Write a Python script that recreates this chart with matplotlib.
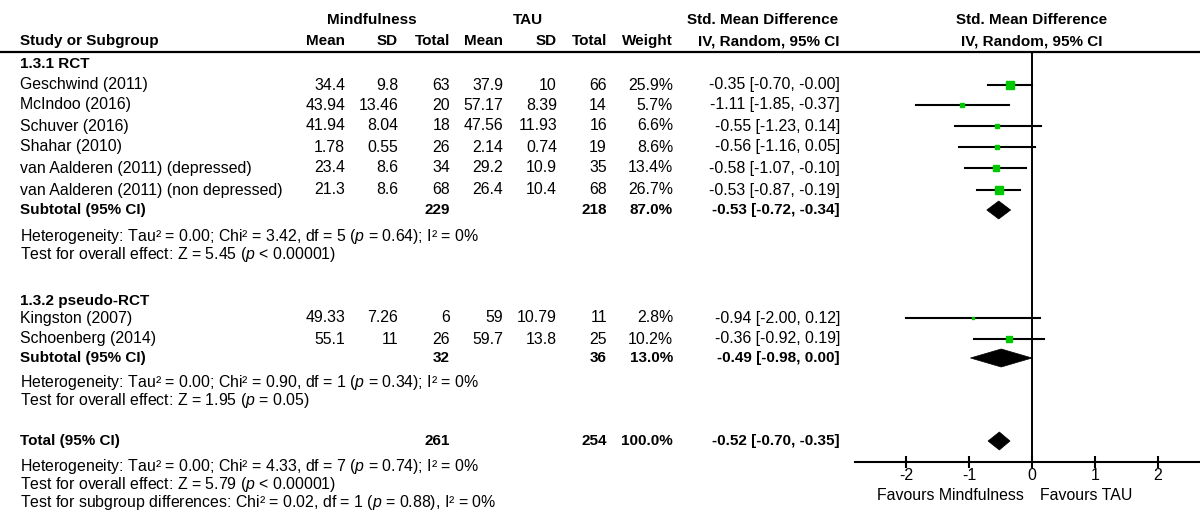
import matplotlib
matplotlib.use("Agg")
import matplotlib.pyplot as plt
from matplotlib.patches import Polygon
import numpy as np

plt.rcParams["font.family"] = ["Liberation Sans", "DejaVu Sans"]
plt.rcParams["mathtext.fontset"] = "custom"
plt.rcParams["mathtext.rm"] = "Liberation Sans"
plt.rcParams["mathtext.it"] = "Liberation Sans:italic"

# ---------------------------------------------------------------------------
# Data
# ---------------------------------------------------------------------------
RCT_STUDIES = ["Geschwind (2011)", "McIndoo (2016)", "Schuver (2016)", "Shahar (2010)",
               "van Aalderen (2011) (depressed)", "van Aalderen (2011) (non depressed)"]
RCT_M_MEAN = [34.4, 43.94, 41.94, 1.78, 23.4, 21.3]
RCT_M_SD = [9.8, 13.46, 8.04, 0.55, 8.6, 8.6]
RCT_M_N = [63, 20, 18, 26, 34, 68]
RCT_T_MEAN = [37.9, 57.17, 47.56, 2.14, 29.2, 26.4]
RCT_T_SD = [10, 8.39, 11.93, 0.74, 10.9, 10.4]
RCT_T_N = [66, 14, 16, 19, 35, 68]
RCT_WEIGHT = [25.9, 5.7, 6.6, 8.6, 13.4, 26.7]
RCT_SMD = [-0.35, -1.11, -0.55, -0.56, -0.58, -0.53]
RCT_LO = [-0.70, -1.85, -1.23, -1.16, -1.07, -0.87]
RCT_HI = [-0.00, -0.37, 0.14, 0.05, -0.10, -0.19]

PSE_STUDIES = ["Kingston (2007)", "Schoenberg (2014)"]
PSE_M_MEAN = [49.33, 55.1]
PSE_M_SD = [7.26, 11]
PSE_M_N = [6, 26]
PSE_T_MEAN = [59, 59.7]
PSE_T_SD = [10.79, 13.8]
PSE_T_N = [11, 25]
PSE_WEIGHT = [2.8, 10.2]
PSE_SMD = [-0.94, -0.36]
PSE_LO = [-2.00, -0.92]
PSE_HI = [0.12, 0.19]

# subtotal / total: (n mind, n tau, weight, smd, lo, hi)
SUB_RCT = (229, 218, 87.0, -0.53, -0.72, -0.34)
SUB_PSE = (32, 36, 13.0, -0.49, -0.98, 0.00)
TOTAL = (261, 254, 100.0, -0.52, -0.70, -0.35)

HET_RCT = "Heterogeneity: Tau² = 0.00; Chi² = 3.42, df = 5 ($\\mathit{p}$ = 0.64); I² = 0%"
EFF_RCT = "Test for overall effect: Z = 5.45 ($\\mathit{p}$ < 0.00001)"
HET_PSE = "Heterogeneity: Tau² = 0.00; Chi² = 0.90, df = 1 ($\\mathit{p}$ = 0.34); I² = 0%"
EFF_PSE = "Test for overall effect: Z = 1.95 ($\\mathit{p}$ = 0.05)"
HET_TOT = "Heterogeneity: Tau² = 0.00; Chi² = 4.33, df = 7 ($\\mathit{p}$ = 0.74); I² = 0%"
EFF_TOT = "Test for overall effect: Z = 5.79 ($\\mathit{p}$ < 0.00001)"
SUBGRP = "Test for subgroup differences: Chi² = 0.02, df = 1 ($\\mathit{p}$ = 0.88), I² = 0%"

XTICKS = [-2, -1, 0, 1, 2]

# ---------------------------------------------------------------------------
# Layout (pixel coordinates)
# ---------------------------------------------------------------------------
W, H = 1200, 517
FS = 11.4
FS_B = 11
COL_X = [345, 398, 450, 503, 557, 607, 673, 840]   # right edges of numeric cols
X_ZERO, X_UNIT = 1032, 62.8
PLOT_LEFT = 855
AXIS_Y = 462

Y_RCT_HEAD = 64
Y_RCT = [85, 105, 126, 147, 168, 190]
Y_RCT_SUB, Y_RCT_HET, Y_RCT_EFF = 210, 236, 254
Y_PSE_HEAD = 301
Y_PSE = [318, 339]
Y_PSE_SUB, Y_PSE_HET, Y_PSE_EFF = 358, 383, 401
Y_TOT, Y_TOT_HET, Y_TOT_EFF, Y_SUBGRP = 441, 466, 485, 503

fig = plt.figure(figsize=(W / 100, H / 100), dpi=100)
ax = fig.add_axes([0, 0, 1, 1])
ax.set_xlim(0, W)
ax.set_ylim(H, 0)
ax.set_axis_off()


def txt(x, y, s, ha="left", bold=False):
    ax.text(x, y, s, ha=ha, va="center", fontsize=FS_B if bold else FS,
            fontweight="bold" if bold else "normal", color="black")


def fmt_ci(e, lo, hi):
    return f"{e:.2f} [{lo:.2f}, {hi:.2f}]"


# header
txt(372, 20, "Mindfulness", ha="center", bold=True)
txt(528, 20, "TAU", ha="center", bold=True)
txt(838, 20, "Std. Mean Difference", ha="right", bold=True)
txt(X_ZERO, 20, "Std. Mean Difference", ha="center", bold=True)
txt(20, 41, "Study or Subgroup", bold=True)
for x, s in zip(COL_X, ["Mean", "SD", "Total", "Mean", "SD", "Total", "Weight",
                        "IV, Random, 95% CI"]):
    txt(x, 41, s, ha="right", bold=True)
txt(X_ZERO, 41, "IV, Random, 95% CI", ha="center", bold=True)
ax.plot([0, W], [52, 52], color="black", lw=1.6, solid_capstyle="butt")


def study_rows(ys, names, mm, msd, mn, tm, tsd, tn, wt, e, lo, hi):
    for i, y in enumerate(ys):
        txt(20, y, names[i])
        vals = [f"{mm[i]:g}", f"{msd[i]:g}", f"{mn[i]}", f"{tm[i]:g}", f"{tsd[i]:g}",
                f"{tn[i]}", f"{wt[i]:.1f}%", fmt_ci(e[i], lo[i], hi[i])]
        for x, s in zip(COL_X, vals):
            txt(x, y, s, ha="right")


def summary_row(y, label, summ):
    txt(20, y, label, bold=True)
    n1, n2, w, e, lo, hi = summ
    txt(COL_X[2], y, f"{n1}", ha="right", bold=True)
    txt(COL_X[5], y, f"{n2}", ha="right", bold=True)
    txt(COL_X[6], y, f"{w:.1f}%", ha="right", bold=True)
    txt(COL_X[7], y, fmt_ci(e, lo, hi), ha="right", bold=True)


txt(20, Y_RCT_HEAD, "1.3.1 RCT", bold=True)
study_rows(Y_RCT, RCT_STUDIES, RCT_M_MEAN, RCT_M_SD, RCT_M_N, RCT_T_MEAN, RCT_T_SD,
           RCT_T_N, RCT_WEIGHT, RCT_SMD, RCT_LO, RCT_HI)
summary_row(Y_RCT_SUB, "Subtotal (95% CI)", SUB_RCT)
txt(20, Y_RCT_HET, HET_RCT)
txt(20, Y_RCT_EFF, EFF_RCT)

txt(20, Y_PSE_HEAD, "1.3.2 pseudo-RCT", bold=True)
study_rows(Y_PSE, PSE_STUDIES, PSE_M_MEAN, PSE_M_SD, PSE_M_N, PSE_T_MEAN, PSE_T_SD,
           PSE_T_N, PSE_WEIGHT, PSE_SMD, PSE_LO, PSE_HI)
summary_row(Y_PSE_SUB, "Subtotal (95% CI)", SUB_PSE)
txt(20, Y_PSE_HET, HET_PSE)
txt(20, Y_PSE_EFF, EFF_PSE)

summary_row(Y_TOT, "Total (95% CI)", TOTAL)
txt(20, Y_TOT_HET, HET_TOT)
txt(20, Y_TOT_EFF, EFF_TOT)
txt(20, Y_SUBGRP, SUBGRP)

txt(X_ZERO - 8, 495, "Favours Mindfulness", ha="right")
txt(X_ZERO + 8, 495, "Favours TAU", ha="left")

# ---------------------------------------------------------------------------
# Forest plot
# ---------------------------------------------------------------------------
fx = fig.add_axes([PLOT_LEFT / W, 0, (W - PLOT_LEFT) / W, 1])
fx.patch.set_alpha(0)
fx.set_xlim((PLOT_LEFT - X_ZERO) / X_UNIT, (W - X_ZERO) / X_UNIT)
fx.set_ylim(H, 0)
for s in ["left", "right", "top"]:
    fx.spines[s].set_visible(False)
fx.spines["bottom"].set_position(("data", AXIS_Y))
fx.spines["bottom"].set_linewidth(1.5)
fx.set_yticks([])
fx.set_xticks(XTICKS)
fx.set_xticklabels([str(t) for t in XTICKS], fontsize=FS)
fx.tick_params(axis="x", direction="inout", length=9, width=1.5, pad=0)
fx.vlines(0, 52, AXIS_Y, color="black", lw=1.4)

for ys, e, lo, hi, wt in [(Y_RCT, RCT_SMD, RCT_LO, RCT_HI, RCT_WEIGHT),
                          (Y_PSE, PSE_SMD, PSE_LO, PSE_HI, PSE_WEIGHT)]:
    for i, y in enumerate(ys):
        fx.plot([lo[i], hi[i]], [y, y], color="black", lw=1.5, zorder=2)
        fx.plot(e[i], y, marker="s", color="#00c800", mec="#00c800",
                ms=1.15 * np.sqrt(wt[i]), zorder=3)

for y, summ in [(Y_RCT_SUB, SUB_RCT), (Y_PSE_SUB, SUB_PSE), (Y_TOT, TOTAL)]:
    _, _, _, e, lo, hi = summ
    fx.add_patch(Polygon([(lo, y), (e, y - 9), (hi, y), (e, y + 9)],
                         closed=True, facecolor="black", edgecolor="black", lw=0.5))

fig.savefig("out.png", dpi=100)
